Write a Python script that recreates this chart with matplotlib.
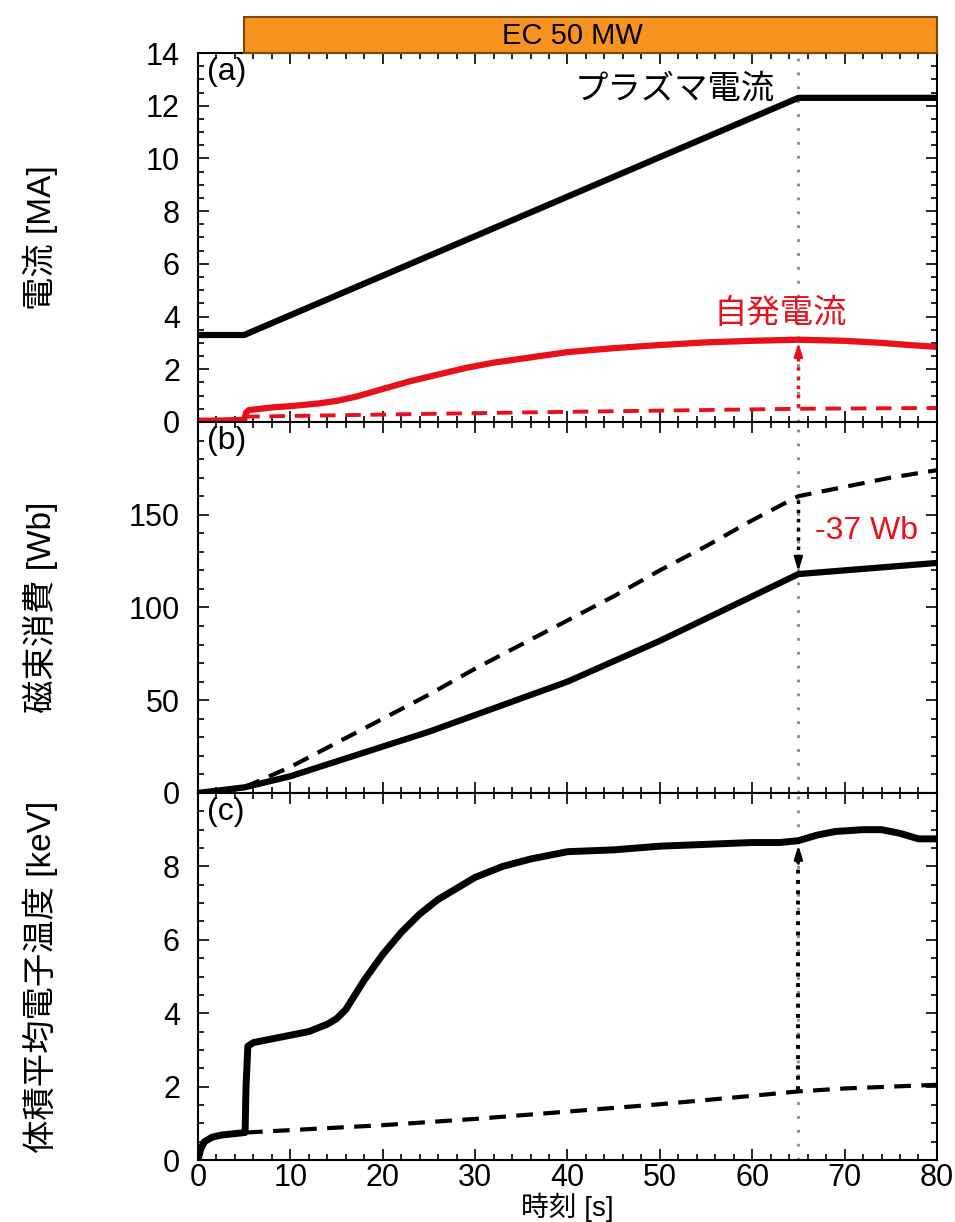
import numpy as np
import matplotlib
matplotlib.use("Agg")
import matplotlib.pyplot as plt
from matplotlib.patches import Rectangle
from matplotlib.ticker import MultipleLocator

plt.rcParams['font.family'] = ['Liberation Sans', 'Noto Sans CJK JP', 'DejaVu Sans']

# (a) 電流
t_ip = [0, 5, 65, 80]
ip = [3.3, 3.3, 12.3, 12.3]
t_bs = [0, 2, 5.0, 5.2, 5.5, 8, 10, 13, 15, 17, 20, 23, 26, 29, 32, 36, 40, 45, 50, 55, 60, 65, 70, 74, 77, 80]
bs = [0.05, 0.05, 0.08, 0.35, 0.45, 0.55, 0.6, 0.7, 0.8, 0.95, 1.25, 1.55, 1.8, 2.05, 2.25, 2.45, 2.65, 2.8, 2.92, 3.02, 3.08, 3.12, 3.08, 3.0, 2.92, 2.85]
t_bs0 = [5, 20, 35, 50, 65, 80]
bs0 = [0.2, 0.28, 0.36, 0.43, 0.5, 0.53]

# (b) 磁束消費
t_flux = [0, 5, 10, 15, 20, 25, 30, 35, 40, 45, 50, 55, 60, 65, 70, 75, 80]
flux = [0, 3, 9, 17, 25, 33, 42, 51, 60, 71, 82, 94, 106, 118, 120, 122, 124]
t_flux0 = [5, 10, 15, 20, 25, 30, 35, 40, 45, 50, 55, 60, 65, 70, 75, 80]
flux0 = [3, 14, 27, 40, 53, 67, 80, 93, 106, 120, 133, 147, 160, 165, 170, 174]

# (c) 体積平均電子温度
t_te = [0, 0.3, 0.7, 1.5, 2.5, 4, 5.1, 5.2, 5.4, 6, 8, 10, 12, 14, 15, 16, 17, 18, 20, 22, 24,
        26, 28, 30, 33, 36, 40, 45, 50, 55, 60, 63, 65, 67, 69, 72, 74, 76, 78, 80]
te = [0, 0.3, 0.5, 0.62, 0.68, 0.72, 0.75, 2.0, 3.1, 3.2, 3.3, 3.4, 3.5, 3.7, 3.85, 4.1, 4.5, 4.9, 5.6, 6.2, 6.7,
      7.1, 7.4, 7.7, 8.0, 8.2, 8.4, 8.45, 8.55, 8.6, 8.65, 8.65, 8.7, 8.85, 8.95, 9.0, 9.0, 8.9, 8.75, 8.75]
t_te0 = [5.2, 20, 30, 40, 50, 60, 65, 70, 80]
te0 = [0.75, 0.95, 1.12, 1.32, 1.52, 1.75, 1.87, 1.95, 2.05]

t_end = 65
red = '#E8101A'
arrow_head = '-|>,head_length=0.8,head_width=0.25'

fig = plt.figure(figsize=(9.55, 12.22), dpi=100)
left, width = 0.2073, 0.7738
ax_a = fig.add_axes([left, 0.6547, width, 0.3019])
ax_b = fig.add_axes([left, 0.3511, width, 0.3036])
ax_c = fig.add_axes([left, 0.0507, width, 0.3004])
ax_ec = fig.add_axes([left, 0.9566, width, 0.0295])

# EC bar
ax_ec.set_xlim(0, 80)
ax_ec.set_ylim(0, 1)
ax_ec.axis('off')
ax_ec.add_patch(Rectangle((5, 0), 75, 1, facecolor='#F7931E', edgecolor='#7A4A10', lw=1.5, clip_on=False))
ax_ec.text(40.5, 0.48, 'EC 50 MW', ha='center', va='center', fontsize=21)

for ax in (ax_a, ax_b, ax_c):
    ax.set_xlim(0, 80)
    ax.xaxis.set_major_locator(MultipleLocator(10))
    ax.xaxis.set_minor_locator(MultipleLocator(2))
    ax.tick_params(which='both', direction='in', top=True, right=True, labelsize=22, width=1.2)
    ax.tick_params(which='major', length=8)
    ax.tick_params(which='minor', length=4)
    ax.tick_params(axis='y', pad=13)
    ax.axvline(t_end, color='#888888', ls=(0, (1, 4)), lw=2, zorder=1)
    for s in ax.spines.values():
        s.set_linewidth(1.5)
ax_a.tick_params(labelbottom=False)
ax_b.tick_params(labelbottom=False)
ax_c.tick_params(axis='x', pad=2)

# (a)
ax_a.plot(t_ip, ip, color='black', lw=4.5)
ax_a.plot(t_bs, bs, color=red, lw=4.5)
ax_a.plot(t_bs0, bs0, color=red, lw=2.8, ls=(0, (4, 2.5)))
ax_a.plot([t_end, t_end], [bs0[4] + 0.05, bs[21] - 0.45], color=red, lw=2.5, ls=':')
ax_a.annotate('', xy=(t_end, bs[21]), xytext=(t_end, bs[21] - 0.6),
              arrowprops=dict(arrowstyle=arrow_head, color=red, lw=1.8))
ax_a.set_ylim(0, 14)
ax_a.yaxis.set_major_locator(MultipleLocator(2))
ax_a.yaxis.set_minor_locator(MultipleLocator(0.5))
ax_a.text(0.012, 0.99, '(a)', transform=ax_a.transAxes, ha='left', va='top', fontsize=23)
ax_a.text(51.6, 12.6, 'プラズマ電流', ha='center', va='center', fontsize=24)
ax_a.text(63, 4.1, '自発電流', ha='center', va='center', fontsize=24, color=red)
ax_a.set_ylabel('電流 [MA]', fontsize=24)

# (b)
ax_b.plot(t_flux, flux, color='black', lw=4.5)
ax_b.plot(t_flux0, flux0, color='black', lw=3, ls=(0, (4, 2.5)))
ax_b.plot([t_end, t_end], [flux0[12] - 2, flux[13] + 10], color='black', lw=2.5, ls=':')
ax_b.annotate('', xy=(t_end, flux[13]), xytext=(t_end, flux[13] + 11),
              arrowprops=dict(arrowstyle=arrow_head, color='black', lw=1.8))
ax_b.set_ylim(0, 200)
ax_b.set_yticks([0, 50, 100, 150])
ax_b.yaxis.set_minor_locator(MultipleLocator(10))
ax_b.text(0.012, 0.99, '(b)', transform=ax_b.transAxes, ha='left', va='top', fontsize=23)
ax_b.text(72.4, 141, '-37 Wb', ha='center', va='center', fontsize=23, color=red)
ax_b.set_ylabel('磁束消費 [Wb]', fontsize=24)

# (c)
ax_c.plot(t_te, te, color='black', lw=5)
ax_c.plot(t_te0, te0, color='black', lw=3, ls=(0, (4, 2.5)))
ax_c.plot([t_end, t_end], [te0[6] + 0.05, te[32] - 0.5], color='black', lw=2.8, ls=':')
ax_c.annotate('', xy=(t_end, te[32] - 0.05), xytext=(t_end, te[32] - 0.7),
              arrowprops=dict(arrowstyle=arrow_head, color='black', lw=1.8))
ax_c.set_ylim(0, 10)
ax_c.set_yticks([0, 2, 4, 6, 8])
ax_c.yaxis.set_minor_locator(MultipleLocator(0.5))
ax_c.text(0.012, 0.99, '(c)', transform=ax_c.transAxes, ha='left', va='top', fontsize=23)
ax_c.set_ylabel('体積平均電子温度 [keV]', fontsize=24)
ax_c.set_xlabel('時刻 [s]', fontsize=20, labelpad=0)

for ax in (ax_a, ax_b, ax_c):
    ax.yaxis.set_label_coords(-0.19, 0.5)

fig.savefig('out.png', dpi=100)
